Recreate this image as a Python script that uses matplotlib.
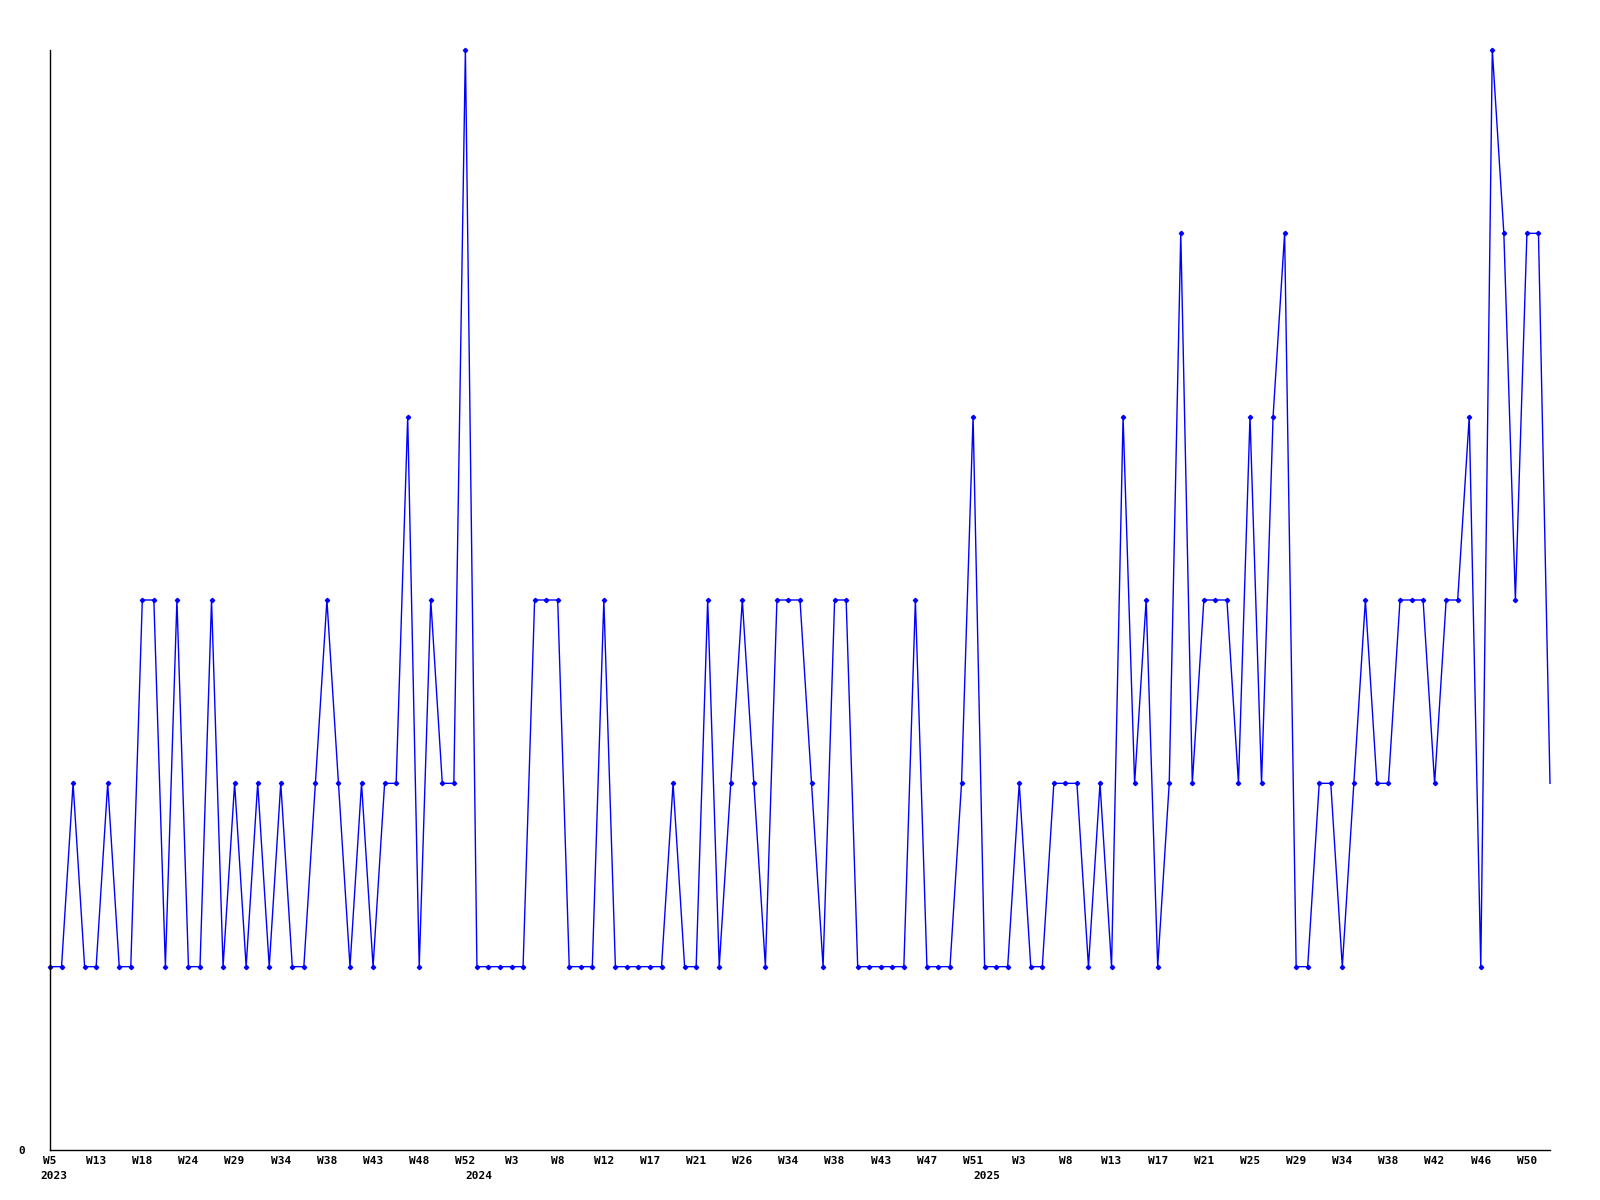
import matplotlib
matplotlib.use("Agg")
import matplotlib.pyplot as plt
import matplotlib.transforms as mtransforms

# Weekly values (one per point, in order)
values = [1, 1, 2, 1, 1, 2, 1, 1, 3, 3, 1, 3, 1, 1, 3, 1, 2, 1, 2, 1,
          2, 1, 1, 2, 3, 2, 1, 2, 1, 2, 2, 4, 1, 3, 2, 2, 6, 1, 1, 1,
          1, 1, 3, 3, 3, 1, 1, 1, 3, 1, 1, 1, 1, 1, 2, 1, 1, 3, 1, 2,
          3, 2, 1, 3, 3, 3, 2, 1, 3, 3, 1, 1, 1, 1, 1, 3, 1, 1, 1, 2,
          4, 1, 1, 1, 2, 1, 1, 2, 2, 2, 1, 2, 1, 4, 2, 3, 1, 2, 5, 2,
          3, 3, 3, 2, 4, 2, 4, 5, 1, 1, 2, 2, 1, 2, 3, 2, 2, 3, 3, 3,
          2, 3, 3, 4, 1, 6, 5, 3, 5, 5, 2]

# Week labels shown every 4th point
tick_labels = ["W5", "W13", "W18", "W24", "W29", "W34", "W38", "W43", "W48", "W52",
               "W3", "W8", "W12", "W17", "W21", "W26", "W34", "W38", "W43", "W47",
               "W51", "W3", "W8", "W13", "W17", "W21", "W25", "W29", "W34", "W38",
               "W42", "W46", "W50"]
tick_step = 4

year_labels = ["2023", "2024", "2025"]
year_positions = [0.3, 37.2, 81.2]

x = list(range(len(values)))

fig = plt.figure(figsize=(16, 12), dpi=100)
ax = fig.add_axes([50 / 1600, 50 / 1200, 1500 / 1600, 1100 / 1200])

ax.plot(x, values, color="#0000ff", linewidth=1.0, marker="D", markersize=2.2,
        markevery=slice(0, len(values) - 1), clip_on=False)

ax.set_xlim(0, len(values) - 1)
ax.set_ylim(0, 6)

for side in ["top", "right"]:
    ax.spines[side].set_visible(False)
for side in ["left", "bottom"]:
    ax.spines[side].set_color("black")
    ax.spines[side].set_linewidth(1.0)

mono = {"family": "DejaVu Sans Mono", "weight": "bold", "size": 8}

ax.set_xticks(list(range(0, len(values), tick_step))[:len(tick_labels)])
ax.set_xticklabels(tick_labels, fontdict=mono)
ax.set_yticks([0])
ax.set_yticklabels(["0"], fontdict=mono)
ax.tick_params(axis="x", length=0, pad=4)
ax.tick_params(axis="y", length=0, pad=18)

trans = mtransforms.blended_transform_factory(ax.transData, fig.transFigure)
for pos, lab in zip(year_positions, year_labels):
    ax.text(pos, 1 - 1176 / 1200, lab, transform=trans, ha="center", va="center",
            fontdict=mono)

fig.savefig("out.png", dpi=100)
